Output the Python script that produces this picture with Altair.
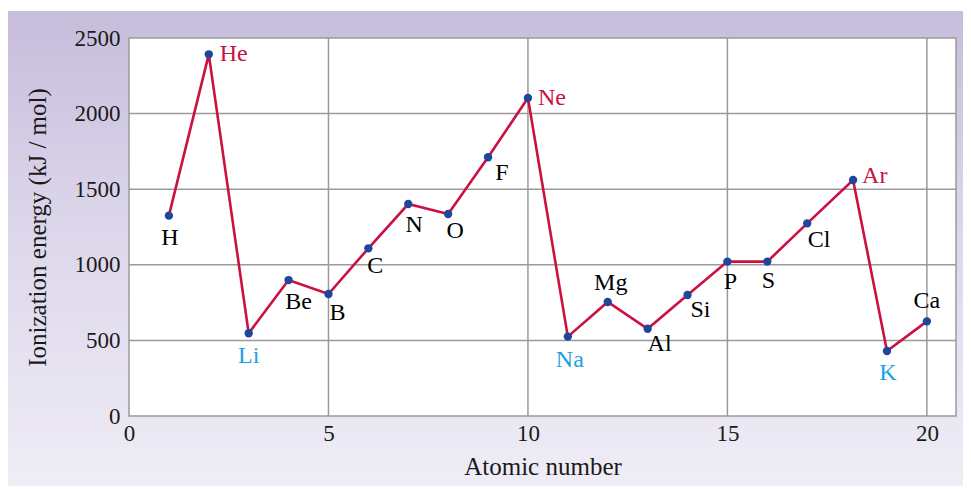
import altair as alt
import pandas as pd

# ---- data ----
elements = ["H", "He", "Li", "Be", "B", "C", "N", "O", "F", "Ne",
            "Na", "Mg", "Al", "Si", "P", "S", "Cl", "Ar", "K", "Ca"]
atomic_number = [1, 2, 3, 4, 5, 6, 7, 8, 9, 10,
                 11, 12, 13, 14, 15, 16, 17, 18.15, 19, 20]
ionization = [1325, 2392, 547, 899, 807, 1109, 1402, 1336, 1711, 2103,
              525, 754, 577, 800, 1021, 1021, 1274, 1561, 430, 626]
x_ticks = [0, 5, 10, 15, 20]
y_ticks = [0, 500, 1000, 1500, 2000, 2500]
grid_x = [5, 10, 15, 20]
grid_y = [500, 1000, 1500, 2000]
noble = ["He", "Ne", "Ar"]
alkali = ["Li", "Na", "K"]

df = pd.DataFrame({"el": elements, "Z": atomic_number, "IE": ionization})
gx = pd.DataFrame({"Z": grid_x})
gy = pd.DataFrame({"IE": grid_y})
one = pd.DataFrame({"a": [0]})

# ---- style ----
W, H = 827, 378
PAD = {"left": 121, "top": 30, "right": 7, "bottom": 70}
FONT = "Liberation Serif"
CRIMSON = "#cc1040"
BLUE_PT = "#1f4799"
SKY = "#1ea0e4"
GRID = "#9a9a9a"

label_style = {
    "H": (1, 22, "center"), "He": (11, 0, "left"), "Li": (0, 23, "center"),
    "Be": (10, 22, "center"), "B": (9, 19, "center"), "C": (7, 18, "center"),
    "N": (6, 21, "center"), "O": (7, 17, "center"), "F": (14, 16, "center"),
    "Ne": (10, 0, "left"), "Na": (2, 23, "center"), "Mg": (3, -19, "center"),
    "Al": (12, 15, "center"), "Si": (13, 15, "center"), "P": (3, 20, "center"),
    "S": (1, 19, "center"), "Cl": (12, 17, "center"), "Ar": (9, -4, "left"),
    "K": (1, 22, "center"), "Ca": (0, -20, "center"),
}

xscale = alt.Scale(domain=[0, 20.73], nice=False, zero=False)
yscale = alt.Scale(domain=[0, 2500], nice=False)
xaxis = alt.Axis(values=x_ticks, grid=False, domain=False, ticks=False,
                 labelPadding=6, labelFlush=False, title="Atomic number",
                 titlePadding=9, format="d", zindex=1)
yaxis = alt.Axis(values=y_ticks, grid=False, domain=False, ticks=False,
                 labelPadding=9, labelFlush=False,
                 title="Ionization energy (kJ / mol)",
                 titlePadding=24, format="d", zindex=1)

bg = alt.Chart(one).mark_rect(
    color=alt.LinearGradient(
        gradient="linear",
        stops=[alt.GradientStop(color="#c7bddc", offset=0),
               alt.GradientStop(color="#dcd6ea", offset=0.45),
               alt.GradientStop(color="#efedf6", offset=1)],
        x1=0, x2=0, y1=0, y2=1)
).encode(x=alt.value(-PAD["left"]), x2=alt.value(W + PAD["right"]),
         y=alt.value(-27), y2=alt.value(H + PAD["bottom"]))

plotbg = alt.Chart(one).mark_rect(fill="white", stroke=GRID, strokeWidth=1.5).encode(
    x=alt.value(0), x2=alt.value(W), y=alt.value(0), y2=alt.value(H))

vgrid = alt.Chart(gx).mark_rule(color=GRID, strokeWidth=1.5).encode(
    x=alt.X("Z:Q", scale=xscale, axis=xaxis))
hgrid = alt.Chart(gy).mark_rule(color=GRID, strokeWidth=1.5).encode(
    y=alt.Y("IE:Q", scale=yscale, axis=yaxis))

line = alt.Chart(df).mark_line(color=CRIMSON, strokeWidth=2.6).encode(
    x=alt.X("Z:Q", scale=xscale, axis=xaxis),
    y=alt.Y("IE:Q", scale=yscale, axis=yaxis),
    order="Z:Q")
pts = alt.Chart(df).mark_circle(color=BLUE_PT, size=70, opacity=1).encode(
    x=alt.X("Z:Q", scale=xscale, axis=xaxis),
    y=alt.Y("IE:Q", scale=yscale, axis=yaxis))

labels = []
for el in elements:
    dx, dy, al = label_style[el]
    col = CRIMSON if el in noble else (SKY if el in alkali else "black")
    labels.append(
        alt.Chart(df).transform_filter(alt.datum.el == el).mark_text(
            dx=dx, dy=dy, align=al, baseline="middle", font=FONT,
            fontSize=24, color=col
        ).encode(x=alt.X("Z:Q", scale=xscale, axis=xaxis),
                 y=alt.Y("IE:Q", scale=yscale, axis=yaxis),
                 text="el:N")
    )

chart = alt.layer(bg, plotbg, vgrid, hgrid, line, pts, *labels).properties(
    width=W, height=H, padding=PAD,
    autosize=alt.AutoSizeParams(type="none"),
    background="white",
).configure_view(stroke=None).configure_axis(
    labelFont=FONT, labelFontSize=23, labelColor="#1a1a1a",
    titleFont=FONT, titleFontSize=25, titleFontWeight="normal", titleColor="#1a1a1a",
)

chart.save("out.html", embed_options={"renderer": "svg", "actions": False})
